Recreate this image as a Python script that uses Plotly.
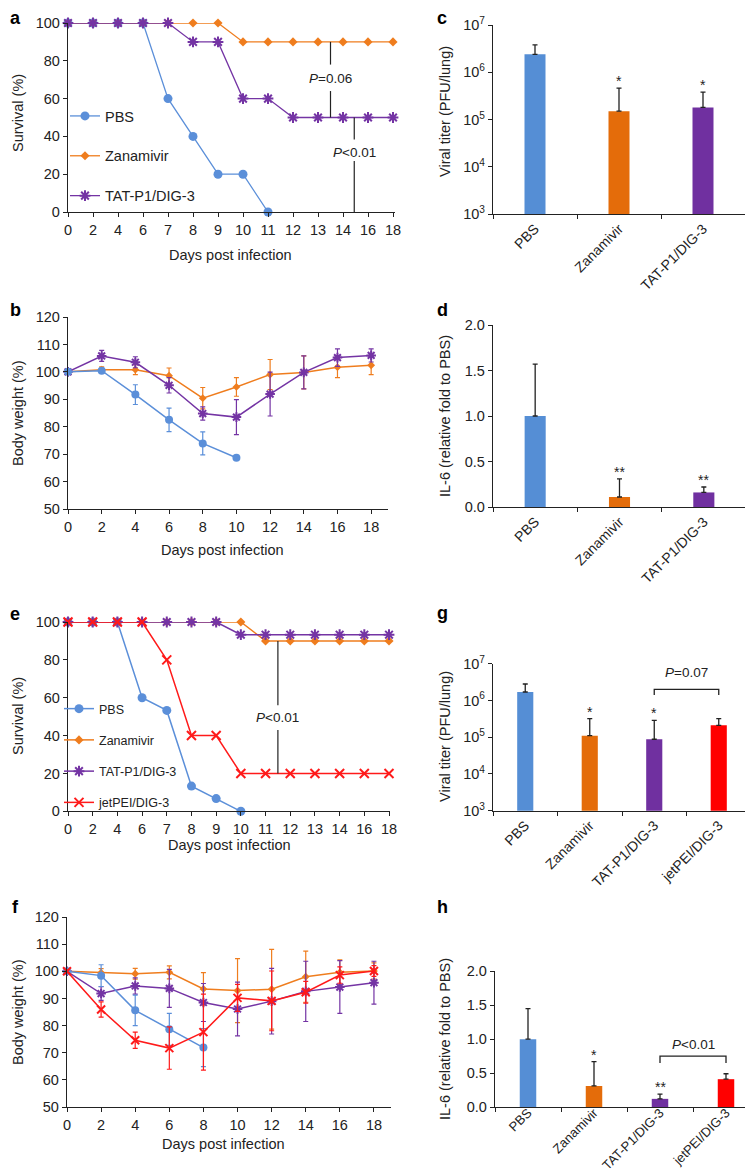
import math
import plotly.graph_objects as go

W, H = 753, 1174
FONT = "Liberation Sans, Arial, Helvetica, sans-serif"
INK = "#222222"

# ---------------- colours ----------------
C_PBS, C_ZAN, C_TAT, C_JET = "#5B8FD9", "#EF7D1E", "#7434A4", "#FF1A1A"
B_PBS, B_ZAN, B_TAT, B_JET = "#558ED5", "#E46C0A", "#7030A0", "#FF0000"

# ---------------- data ----------------
surv_days = ["0", "2", "4", "6", "7", "8", "9", "10", "11", "12", "13", "14", "16", "18"]

# panel a (survival %)
a_pbs = [100, 100, 100, 100, 60, 40, 20, 20, 0]
a_zan = [100, 100, 100, 100, 100, 100, 100, 90, 90, 90, 90, 90, 90, 90]
a_tat = [100, 100, 100, 100, 100, 90, 90, 60, 60, 50, 50, 50, 50, 50]

# panel e (survival %)
e_pbs = [100, 100, 100, 60, 53.3, 13.3, 6.7, 0]
e_zan = [100, 100, 100, 100, 100, 100, 100, 100, 90, 90, 90, 90, 90, 90]
e_tat = [100, 100, 100, 100, 100, 100, 100, 93.3, 93.3, 93.3, 93.3, 93.3, 93.3, 93.3]
e_jet = [100, 100, 100, 100, 80, 40, 40, 20, 20, 20, 20, 20, 20, 20]

# panel b (body weight %)
bw_days = [0, 2, 4, 6, 8, 10, 12, 14, 16, 18]
b_pbs = [100, 100.4, 91.7, 82.5, 73.9, 68.7]
b_pbs_err = [0.5, 1.0, 3.6, 4.3, 4.2, 0]
b_zan = [100, 100.8, 100.8, 98.6, 90.4, 94.5, 99.0, 99.8, 101.7, 102.4]
b_zan_err = [0.5, 1.0, 1.8, 2.8, 3.9, 3.4, 5.5, 6.0, 3.8, 3.4]
b_tat = [100, 105.8, 103.5, 95.1, 84.8, 83.5, 91.9, 99.8, 105.2, 106.0]
b_tat_err = [0.5, 2.0, 2.0, 2.8, 2.4, 6.4, 8.0, 6.0, 3.2, 2.4]

# panel f (body weight %)
f_pbs = [100, 98.4, 85.6, 78.6, 71.9]
f_pbs_err = [0.5, 4.0, 5.6, 5.9, 7.0]
f_zan = [100, 99.5, 99.1, 99.6, 93.5, 92.9, 93.4, 98.0, 99.6, 100.1]
f_zan_err = [0.5, 1.5, 2.0, 2.4, 6.0, 11.8, 14.7, 9.4, 4.6, 3.0]
f_tat = [100, 91.8, 94.6, 93.7, 88.5, 86.1, 89.0, 92.6, 94.2, 95.8]
f_tat_err = [0.5, 2.5, 3.0, 7.0, 7.0, 9.9, 12.1, 11.1, 9.7, 7.9]
f_jet = [100, 85.9, 74.6, 71.7, 77.6, 90.2, 89.1, 92.3, 98.6, 100.1]
f_jet_err = [0.5, 2.8, 3.0, 7.8, 14.0, 5.0, 11.0, 4.0, 3.0, 2.0]

# panel c / d (3 groups)
grp3 = ["PBS", "Zanamivir", "TAT-P1/DIG-3"]
c_titer = [2.4e6, 1.5e5, 1.8e5]
c_err = [1.4e6, 3.1e5, 2.0e5]
c_sig = ["", "*", "*"]
d_il6 = [1.0, 0.11, 0.16]
d_err = [0.57, 0.20, 0.06]
d_sig = ["", "**", "**"]

# panel g / h (4 groups)
grp4 = ["PBS", "Zanamivir", "TAT-P1/DIG-3", "jetPEI/DIG-3"]
g_titer = [1.7e6, 1.1e5, 8.8e4, 2.1e5]
g_err = [1.1e6, 2.1e5, 2.0e5, 1.1e5]
g_sig = ["", "*", "*", ""]
h_il6 = [1.0, 0.31, 0.12, 0.41]
h_err = [0.45, 0.36, 0.07, 0.08]
h_sig = ["", "*", "**", ""]

names = ["PBS", "Zanamivir", "TAT-P1/DIG-3", "jetPEI/DIG-3"]
line_cols = [C_PBS, C_ZAN, C_TAT, C_JET]
bar_cols = [B_PBS, B_ZAN, B_TAT, B_JET]
symbols = ["circle", "diamond", "asterisk-open", "x-thin-open"]
msizes = [9, 7, 9, 9]


def px_x(px):
    return px / W


def px_y(py):
    return 1 - py / H


fig = go.Figure()


def marker(i, size=None):
    m = dict(symbol=symbols[i], size=size or msizes[i], color=line_cols[i])
    if "open" in symbols[i]:
        m["line"] = dict(color=line_cols[i], width=2)
    return m


# ---------------- survival panels ----------------
def survival(series, xa, ya, legend, lw):
    for i, ys in series:
        fig.add_trace(go.Scatter(
            x=surv_days[:len(ys)], y=ys, mode="lines+markers", name=names[i],
            line=dict(color=line_cols[i], width=lw), marker=marker(i),
            xaxis=xa, yaxis=ya, legend=legend, legendgroup=legend + names[i],
            cliponaxis=False, hoverinfo="skip"))


survival([(0, a_pbs), (1, a_zan), (2, a_tat)], "x", "y", "legend", 1.3)
survival([(0, e_pbs), (1, e_zan), (2, e_tat), (3, e_jet)], "x5", "y5", "legend2", 1.5)


# ---------------- body weight panels ----------------
def weight(series, xa, ya):
    for i, ys, es in series:
        fig.add_trace(go.Scatter(
            x=bw_days[:len(ys)], y=ys, mode="lines+markers", name=names[i],
            line=dict(color=line_cols[i], width=1.5), marker=marker(i, msizes[i] - 1),
            error_y=dict(type="data", array=es, color=line_cols[i], thickness=1.2, width=2.5),
            xaxis=xa, yaxis=ya, showlegend=False, cliponaxis=False, hoverinfo="skip"))


weight([(1, b_zan, b_zan_err), (2, b_tat, b_tat_err), (0, b_pbs, b_pbs_err)], "x2", "y2")
weight([(1, f_zan, f_zan_err), (2, f_tat, f_tat_err), (0, f_pbs, f_pbs_err), (3, f_jet, f_jet_err)], "x6", "y6")


# ---------------- bar panels ----------------
def bars(cats, vals, errs, xa, ya):
    n = len(cats)
    fig.add_trace(go.Bar(
        x=cats, y=vals, width=0.25, marker=dict(color=bar_cols[:n], line=dict(width=0)),
        error_y=dict(type="data", symmetric=False, array=errs, arrayminus=[0] * n,
                     color=INK, thickness=1.3, width=2.5),
        xaxis=xa, yaxis=ya, showlegend=False, hoverinfo="skip"))


bars(grp3, c_titer, c_err, "x3", "y3")
bars(grp3, d_il6, d_err, "x4", "y4")
bars(grp4, g_titer, g_err, "x7", "y7")
bars(grp4, h_il6, h_err, "x8", "y8")

annotations = []
shapes = []


def sig_marks(cats, vals, errs, sig, xa, ya, log):
    for c, v, e, s in zip(cats, vals, errs, sig):
        if not s:
            continue
        top = v + e
        annotations.append(dict(
            x=c, y=math.log10(top) if log else top, xref=xa, yref=ya,
            text=s, showarrow=False, xanchor="center", yanchor="bottom", yshift=-3,
            font=dict(size=14, color=INK, family=FONT)))


sig_marks(grp3, c_titer, c_err, c_sig, "x3", "y3", True)
sig_marks(grp3, d_il6, d_err, d_sig, "x4", "y4", False)
sig_marks(grp4, g_titer, g_err, g_sig, "x7", "y7", True)
sig_marks(grp4, h_il6, h_err, h_sig, "x8", "y8", False)


# brackets (g, h) drawn as line traces between TAT and jetPEI bars
def bracket(xa, ya, low, high, text, text_y):
    fig.add_trace(go.Scatter(
        x=[grp4[2], grp4[2], grp4[3], grp4[3]], y=[low, high, high, low],
        mode="lines", line=dict(color=INK, width=1.3), xaxis=xa, yaxis=ya,
        showlegend=False, hoverinfo="skip"))
    annotations.append(dict(x=2.5, y=text_y, xref=xa, yref=ya, text=text, showarrow=False,
                            xanchor="center", yanchor="middle",
                            font=dict(size=13.5, color=INK, family=FONT)))


bracket("x7", "y7", 1.4e6, 2.0e6, "<i>P</i>=0.07", 6.77)
bracket("x8", "y8", 0.65, 0.75, "<i>P</i><0.01", 0.92)


# P-value lines in survival panels (broken around text)
def pline(xa, ya, x, y_top, y_bot, gap_top, gap_bot, text, text_y):
    for y0, y1 in ((y_top, gap_top), (gap_bot, y_bot)):
        shapes.append(dict(type="line", xref=xa, yref=ya, x0=x, x1=x, y0=y0, y1=y1,
                           line=dict(color=INK, width=1.2)))
    annotations.append(dict(x=x, y=text_y, xref=xa, yref=ya, text=text, showarrow=False,
                            xanchor="center", yanchor="middle",
                            font=dict(size=13.5, color=INK, family=FONT)))


pline("x", "y", 10.5, a_zan[-1], a_tat[-1], 78, 64, "<i>P</i>=0.06", 70.8)
pline("x", "y", 11.45, a_tat[-1], a_pbs[-1], 38.3, 27, "<i>P</i><0.01", 31.5)
pline("x5", "y5", 8.5, e_zan[9], e_jet[9], 56, 43, "<i>P</i><0.01", 49.5)

# ---------------- text: panel letters and axis titles ----------------
letters = [("a", 7, 10), ("b", 7, 302), ("c", 434, 10), ("d", 434, 302),
           ("e", 7, 606), ("f", 7, 899), ("g", 434, 605), ("h", 434, 899)]
for t, x, y in letters:
    annotations.append(dict(x=px_x(x), y=px_y(y), xref="paper", yref="paper", text="<b>%s</b>" % t,
                            xanchor="center", yanchor="middle",
                            showarrow=False, font=dict(size=18, color="#000", family=FONT)))

xtitles = [(222, 247), (214, 542), (221, 837), (215, 1136)]
for x, y in xtitles:
    annotations.append(dict(x=px_x(x), y=px_y(y), xref="paper", yref="paper", text="Days post infection",
                            xanchor="center", yanchor="middle",
                            showarrow=False, font=dict(size=14.5, color=INK, family=FONT)))

ytitles = [("Survival (%)", 10, 105), ("Body weight (%)", 10, 405), ("Survival (%)", 10, 708),
           ("Body weight (%)", 10, 1004), ("Viral titer (PFU/lung)", 437, 104),
           ("IL-6 (relative fold to PBS)", 437, 408), ("Viral titer (PFU/lung)", 437, 729),
           ("IL-6 (relative fold to PBS)", 437, 1031)]
for t, x, y in ytitles:
    annotations.append(dict(x=px_x(x), y=px_y(y), xref="paper", yref="paper", text=t, textangle=-90,
                            xanchor="center", yanchor="middle",
                            showarrow=False, font=dict(size=14.5, color=INK, family=FONT)))

# ---------------- axes ----------------
base = dict(showline=True, linecolor=INK, linewidth=1.3, ticks="outside", ticklen=4,
            tickcolor=INK, tickwidth=1.2, showgrid=False, zeroline=False,
            tickfont=dict(size=14.5, color=INK, family=FONT))


def ax(**kw):
    d = dict(base)
    d.update(kw)
    return d


logticks = [1e3, 1e4, 1e5, 1e6, 1e7]
logtext = ["10<sup>%d</sup>" % int(math.log10(v)) for v in logticks]
catfont = dict(size=14, color=INK, family=FONT)
catfont_h = dict(size=13, color=INK, family=FONT)

layout_axes = dict(
    xaxis=ax(domain=[px_x(60), px_x(387)], range=[0, 13.08], type="category", anchor="y"),
    yaxis=ax(domain=[px_y(204), px_y(15)], range=[0, 100], dtick=20, anchor="x"),
    xaxis2=ax(domain=[px_x(60), px_x(380)], range=[0, 19], dtick=2, anchor="y2"),
    yaxis2=ax(domain=[px_y(501), px_y(309)], range=[50, 120], dtick=10, anchor="x2"),
    xaxis3=ax(domain=[px_x(485), px_x(737)], range=[-0.5, 2.5], type="category", anchor="y3",
              tickson="boundaries", tickangle=-45, tickfont=catfont),
    yaxis3=ax(domain=[px_y(206), px_y(17)], type="log", range=[3, 7], tickvals=logticks,
              ticktext=logtext, anchor="x3"),
    xaxis4=ax(domain=[px_x(485), px_x(738)], range=[-0.5, 2.5], type="category", anchor="y4",
              tickson="boundaries", tickangle=-45, tickfont=catfont),
    yaxis4=ax(domain=[px_y(499), px_y(317)], range=[0, 2], dtick=0.5, tickformat=".1f", anchor="x4"),
    xaxis5=ax(domain=[px_x(60), px_x(382)], range=[0, 13.04], type="category", anchor="y5"),
    yaxis5=ax(domain=[px_y(803.3), px_y(614)], range=[0, 100], dtick=20, anchor="x5"),
    xaxis6=ax(domain=[px_x(59), px_x(383)], range=[0, 19], dtick=2, anchor="y6"),
    yaxis6=ax(domain=[px_y(1099), px_y(909)], range=[50, 120], dtick=10, anchor="x6"),
    xaxis7=ax(domain=[px_x(485), px_x(743)], range=[-0.5, 3.5], type="category", anchor="y7",
              tickson="boundaries", tickangle=-45, tickfont=catfont),
    yaxis7=ax(domain=[px_y(802.7), px_y(655.7)], type="log", range=[3, 7], tickvals=logticks,
              ticktext=logtext, anchor="x7"),
    xaxis8=ax(domain=[px_x(487), px_x(751)], range=[-0.5, 3.5], type="category", anchor="y8",
              tickson="boundaries", tickangle=-45, tickfont=catfont_h, ticklabelstandoff=-8),
    yaxis8=ax(domain=[px_y(1099), px_y(963.3)], range=[0, 2], dtick=0.5, tickformat=".1f", anchor="x8"),
)

fig.update_layout(
    width=W, height=H, margin=dict(l=0, r=0, t=0, b=0, autoexpand=False),
    paper_bgcolor="white", plot_bgcolor="white",
    font=dict(family=FONT, color=INK, size=14),
    annotations=annotations, shapes=shapes,
    legend=dict(x=px_x(57), y=px_y(92), xanchor="left", yanchor="top", font=dict(size=14.5, family=FONT, color=INK),
                tracegroupgap=18, itemwidth=30, bgcolor="rgba(0,0,0,0)"),
    legend2=dict(x=px_x(51), y=px_y(686), xanchor="left", yanchor="top", font=dict(size=12.5, family=FONT, color=INK),
                 tracegroupgap=12, itemwidth=30, bgcolor="rgba(0,0,0,0)"),
    **layout_axes,
)

fig.write_html("out.html")
